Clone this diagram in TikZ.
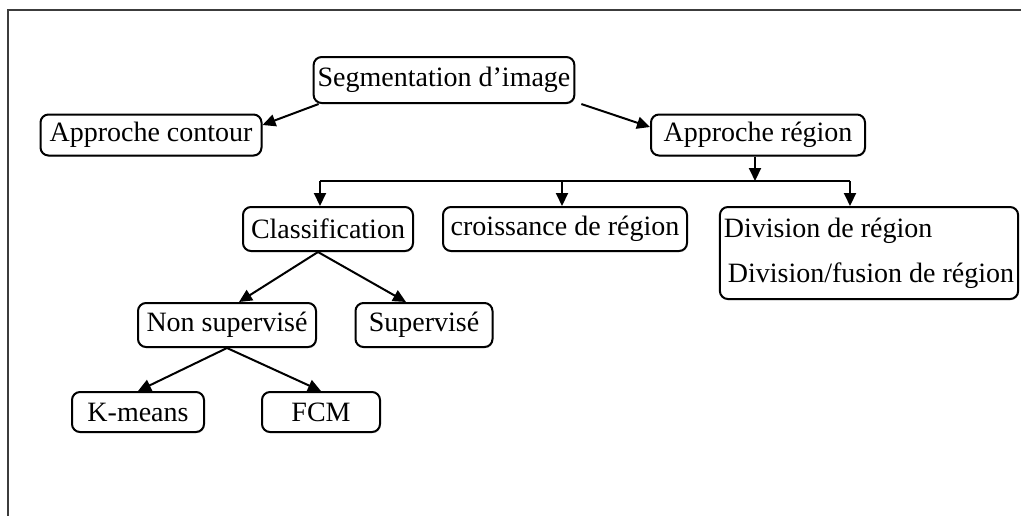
\documentclass[tikz,border=0pt]{standalone}
\usepackage{fontspec}
\setmainfont{Liberation Serif}
\usetikzlibrary{arrows.meta, shadows}
\definecolor{framegray}{RGB}{60,60,60}

\begin{document}
\begin{tikzpicture}[
    x=0.5pt, y=-0.5pt,
    box/.style={draw, line width=1pt, rounded corners=4pt, fill=white, inner sep=2pt,
                drop shadow={shadow xshift=0.4pt, shadow yshift=-0.6pt, opacity=0.35},
                font=\fontsize{14}{16}\selectfont},
    arr/.style={line width=1pt, -{Triangle[length=6.5pt, width=6pt]}},
    bar/.style={line width=1pt}
]
    \useasboundingbox (0,0) rectangle (1021,516);
    % Frame
    \draw[framegray, line width=1pt] (1021,10) -- (8,10) -- (8,516);

    % Top level
    \node[box, minimum width=129pt, minimum height=23pt] (seg) at (444,80) {Segmentation d'image};
    \node[box, minimum width=110.5pt, minimum height=20.5pt] (contour) at (151,135) {Approche contour};
    \node[box, minimum width=107pt, minimum height=20.5pt] (region) at (758,135) {Approche région};

    % Region methods
    \node[box, minimum width=85pt, minimum height=22pt] (classif) at (328,229) {Classification};
    \node[box, minimum width=122pt, minimum height=22pt] (croiss) at (565,229) {croissance de région};
    \node[box, minimum width=149pt, minimum height=46pt, align=left] (division) at (869,253)
        {Division de région\\[6.5pt]\hspace*{2pt}Division/fusion de région};

    % Classification
    \node[box, minimum width=89pt, minimum height=22pt] (nonsup) at (227,325) {Non supervisé};
    \node[box, minimum width=68.5pt, minimum height=22pt] (sup) at (424,325) {Supervisé};
    \node[box, minimum width=66pt, minimum height=20pt] (kmeans) at (138,412) {K-means};
    \node[box, minimum width=59pt, minimum height=20pt] (fcm) at (321,412) {FCM};

    % Connectors
    \draw[arr] ([xshift=3pt]seg.south west) -- ([yshift=5pt]contour.east);
    \draw[arr] ([xshift=3pt]seg.south east) -- ([yshift=4pt]region.west);

    \coordinate (barL) at (320,181);
    \coordinate (barR) at (850,181);
    \draw[bar] (barL) -- (barR);
    \draw[arr] ([xshift=-1.5pt]region.south) -- ([xshift=-1.5pt]region.south |- barL);
    \draw[arr] (barL) -- (barL |- classif.north);
    \draw[arr] ([xshift=-1.5pt]croiss.north |- barL) -- ([xshift=-1.5pt]croiss.north);
    \draw[arr] (barR) -- (barR |- division.north);

    \draw[arr] ([xshift=-5pt]classif.south) -- ([xshift=6pt]nonsup.north);
    \draw[arr] ([xshift=-5pt]classif.south) -- ([xshift=-9pt]sup.north);
    \draw[arr] (nonsup.south) -- (kmeans.north);
    \draw[arr] (nonsup.south) -- (fcm.north);
\end{tikzpicture}
\end{document}
